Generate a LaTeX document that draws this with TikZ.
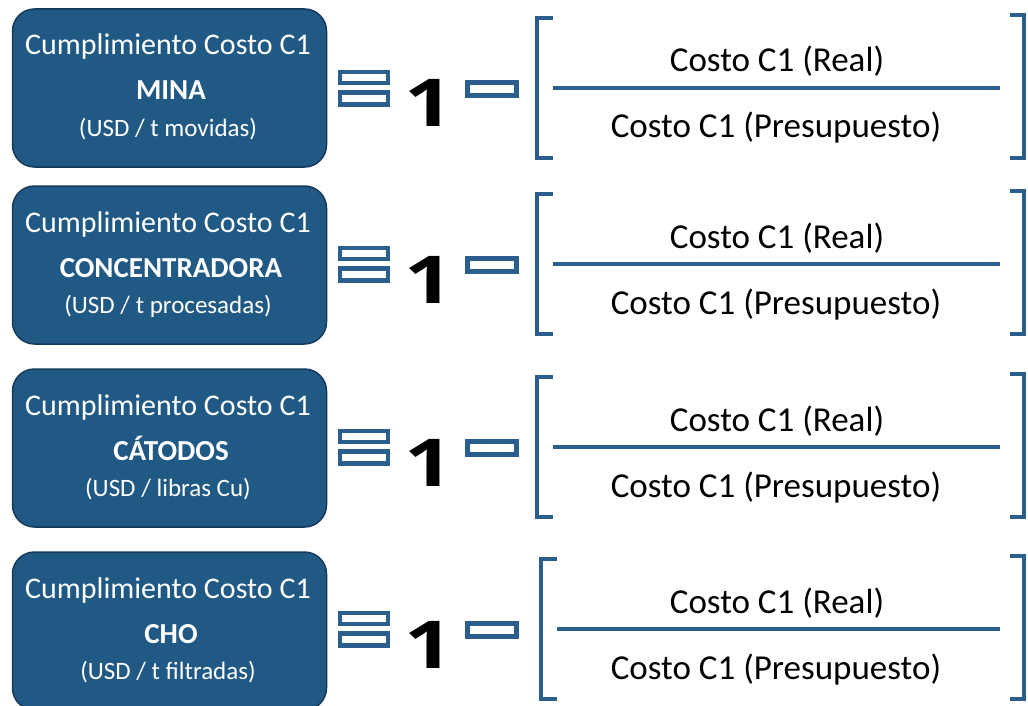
\documentclass[tikz,border=0pt]{standalone}
\usepackage{fontspec}
\setmainfont{Carlito}
\newfontfamily\onefont{Open Sans}
\definecolor{boxblue}{RGB}{33,89,133}
\definecolor{boxedge}{RGB}{22,58,90}
\definecolor{lineblue}{RGB}{42,94,140}
\tikzset{
  box/.style={draw=boxedge, line width=1.5pt, fill=boxblue, rounded corners=22pt,
    minimum width=314pt, minimum height=158pt, inner sep=0pt},
  boxtxt/.style={text=white, anchor=base, inner sep=0pt, font=\fontsize{30}{36}\selectfont},
  symrect/.style={draw=lineblue, line width=4.5pt, fill=white, inner sep=0pt},
  onetxt/.style={anchor=base, inner sep=0pt, font=\onefont\bfseries\fontsize{66}{70}\selectfont, xscale=1.3},
  fractxt/.style={anchor=base, inner sep=0pt, text=black, font=\fontsize{35}{42}\selectfont},
  fracline/.style={draw=lineblue, line width=4pt},
  brack/.style={draw=lineblue, line width=4pt}
}
\newcommand\costrow[6]{% #1 id, #2 row y, #3 box center y, #4 name, #5 unit, #6 left bracket x
  \node[box] (box#1) at (169.5,#3) {};
  \node[boxtxt] (title#1) at (168,#3-33) {Cumplimiento Costo C1};
  \node[boxtxt, font=\fontsize{29}{34}\selectfont\bfseries] (name#1) at (171,#3+12) {#4};
  \node[boxtxt, font=\fontsize{25}{30}\selectfont] (unit#1) at (168,#3+48) {#5};
  \node[symrect, minimum width=48pt, minimum height=11pt] (eqa#1) at (364,#2-10.5) {};
  \node[symrect, minimum width=48pt, minimum height=12pt] (eqb#1) at (364,#2+10.5) {};
  \node[onetxt] (one#1) at (429,#2+39) {1};
  \node[symrect, minimum width=49pt, minimum height=13pt] (minus#1) at (492,#2+1) {};
  \coordinate (fl#1) at (#6+16,#2);
  \coordinate (fr#1) at (1000,#2);
  \draw[fracline] (fl#1) -- (fr#1);
  \draw[brack] (#6+16,#2-70) -- (#6,#2-70) -- (#6,#2+70) -- (#6+16,#2+70);
  \draw[brack] (1010,#2-73) -- (1024,#2-73) -- (1024,#2+70) -- (1010,#2+70);
  \node[fractxt] (num#1) at (777,#2-16) {Costo C1 (Real)};
  \node[fractxt] (den#1) at (776,#2+50) {Costo C1 (Presupuesto)};
}
\begin{document}
\begin{tikzpicture}[x=1pt,y=-1pt]
\useasboundingbox[fill=white] (0,0) rectangle (1028,706);
\costrow{1}{88}{88}{MINA}{(USD / t movidas)}{537}
\costrow{2}{264}{265}{CONCENTRADORA}{(USD / t procesadas)}{537}
\costrow{3}{447}{448}{CÁTODOS}{(USD / libras Cu)}{537}
\costrow{4}{629}{631}{CHO}{(USD / t filtradas)}{541}
\end{tikzpicture}
\end{document}
